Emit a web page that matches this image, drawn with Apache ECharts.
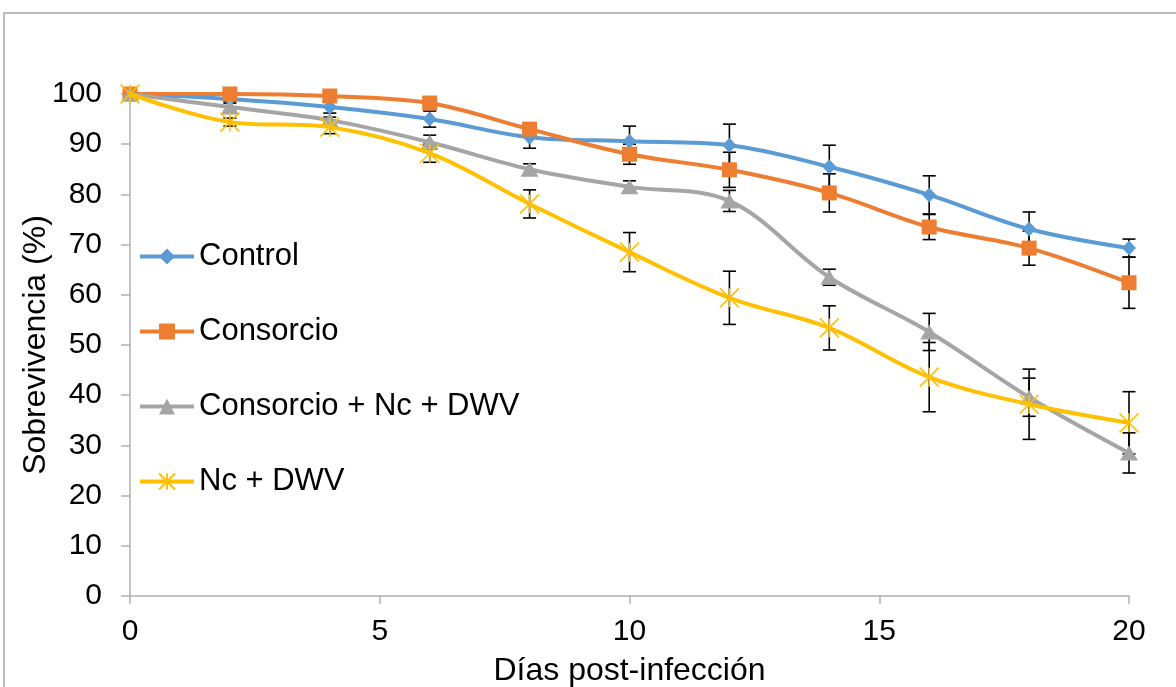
<!DOCTYPE html>
<html>
<head>
<meta charset="utf-8">
<script src="https://cdn.jsdelivr.net/npm/echarts@6/dist/echarts.min.js"></script>
<style>
html,body{margin:0;padding:0;background:#fff;}
#chart{width:1176px;height:687px;}
</style>
</head>
<body>
<div id="chart"></div>
<script>
var days = [0, 2, 4, 6, 8, 10, 12, 14, 16, 18, 20];
var seriesNames = ['Control', 'Consorcio', 'Consorcio + Nc + DWV', 'Nc + DWV'];
var control = [100, 99.0, 97.4, 95.0, 91.4, 90.6, 89.8, 85.5, 79.9, 73.1, 69.3];
var controlErr = [0, 0.5, 1.2, 1.6, 2.2, 3.0, 4.2, 4.3, 3.8, 3.4, 1.8];
var consorcio = [100, 100, 99.6, 98.2, 93.0, 88.0, 84.9, 80.3, 73.5, 69.3, 62.4];
var consorcioErr = [0, 0.3, 0.5, 0.8, 1.0, 2.0, 3.5, 3.8, 2.5, 3.4, 5.1];
var consNcDwv = [100, 97.4, 94.8, 90.4, 85.0, 81.5, 78.7, 63.5, 52.6, 39.6, 28.5];
var consNcDwvErr = [0, 0.8, 0.6, 1.4, 1.1, 1.2, 2.1, 1.6, 3.7, 3.8, 4.0];
var ncDwv = [100, 94.4, 93.4, 88.2, 78.1, 68.5, 59.4, 53.4, 43.6, 38.2, 34.5];
var ncDwvErr = [0, 0.8, 1.3, 1.8, 2.8, 3.9, 5.3, 4.4, 6.9, 7.0, 6.2];

var colors = ['#5B9BD5', '#ED7D31', '#A5A5A5', '#FFC000'];
var symbols = ['diamond', 'rect', 'triangle', 'path://M0,0L10,10M10,0L0,10M5,0L5,10'];
var symbolSizes = [[14, 15], 15, [18, 15], 19];
var values = [control, consorcio, consNcDwv, ncDwv];
var errors = [controlErr, consorcioErr, consNcDwvErr, ncDwvErr];

function pairs(v) { return days.map(function (d, i) { return [d, v[i]]; }); }

var errData = [];
values.forEach(function (v, s) {
  days.forEach(function (d, i) {
    if (errors[s][i] > 0) errData.push([d, v[i], errors[s][i]]);
  });
});

var FONT = '"Liberation Sans", Arial, sans-serif';

var series = [{
  type: 'custom',
  name: 'err',
  data: errData,
  encode: { x: 0, y: 1 },
  z: 1,
  silent: true,
  renderItem: function (params, api) {
    var x = api.value(0), y = api.value(1), e = api.value(2);
    var top = api.coord([x, y + e]);
    var bot = api.coord([x, y - e]);
    var hw = 6.5;
    var st = { stroke: '#000', lineWidth: 1.6 };
    return {
      type: 'group',
      children: [
        { type: 'line', shape: { x1: top[0], y1: top[1], x2: bot[0], y2: bot[1] }, style: st },
        { type: 'line', shape: { x1: top[0] - hw, y1: top[1], x2: top[0] + hw, y2: top[1] }, style: st },
        { type: 'line', shape: { x1: bot[0] - hw, y1: bot[1], x2: bot[0] + hw, y2: bot[1] }, style: st }
      ]
    };
  }
}];

seriesNames.forEach(function (n, s) {
  series.push({
    type: 'line',
    name: n,
    data: pairs(values[s]),
    smooth: 0.35,
    z: 2 + s,
    symbol: symbols[s],
    symbolSize: symbolSizes[s],
    showAllSymbol: true,
    lineStyle: { color: colors[s], width: 4 },
    itemStyle: s === 3
      ? { color: colors[s], borderColor: colors[s], borderWidth: 1.6 }
      : { color: colors[s], borderWidth: 0 },
    emphasis: { disabled: true }
  });
});

var chart = echarts.init(document.getElementById('chart'), null, { renderer: 'canvas' });
chart.setOption({
  backgroundColor: '#fff',
  animation: false,
  textStyle: { fontFamily: FONT },
  graphic: [{
    type: 'rect',
    shape: { x: 4, y: 13, width: 1300, height: 800 },
    style: { fill: null, stroke: '#a6a6a6', lineWidth: 1.5 },
    silent: true
  }],
  grid: { left: 130, right: 47, top: 94, bottom: 91, containLabel: false, outerBoundsMode: 'none' },
  legend: {
    data: seriesNames.map(function (n) { return { name: n, lineStyle: { width: 4 } }; }),
    orient: 'vertical',
    left: 133,
    top: 236,
    itemGap: 44,
    itemWidth: 54,
    itemHeight: 20,
    lineStyle: { width: 4 },
    textStyle: { fontSize: 31, color: '#000', fontFamily: FONT },
    selectedMode: false
  },
  xAxis: {
    type: 'value',
    min: 0, max: 20, interval: 5,
    name: 'Días post-infección',
    nameLocation: 'middle',
    nameGap: 59,
    nameMoveOverlap: false,
    nameTextStyle: { fontSize: 32, color: '#000', fontFamily: FONT },
    axisLine: { show: true, lineStyle: { color: '#b0b0b0', width: 1.5 } },
    axisTick: { show: true, length: 8, lineStyle: { color: '#b0b0b0', width: 1.5 } },
    axisLabel: { fontSize: 30, color: '#000', margin: 21, fontFamily: FONT },
    splitLine: { show: false }
  },
  yAxis: {
    type: 'value',
    min: 0, max: 100, interval: 10,
    name: 'Sobrevivencia (%)',
    nameLocation: 'middle',
    nameGap: 78,
    nameMoveOverlap: false,
    nameTextStyle: { fontSize: 32, color: '#000', fontFamily: FONT },
    axisLine: { show: true, lineStyle: { color: '#b0b0b0', width: 1.5 } },
    axisTick: { show: true, length: 9, lineStyle: { color: '#b0b0b0', width: 1.5 } },
    axisLabel: { fontSize: 30, color: '#000', margin: 28, fontFamily: FONT },
    splitLine: { show: false }
  },
  series: series
});
</script>
</body>
</html>
